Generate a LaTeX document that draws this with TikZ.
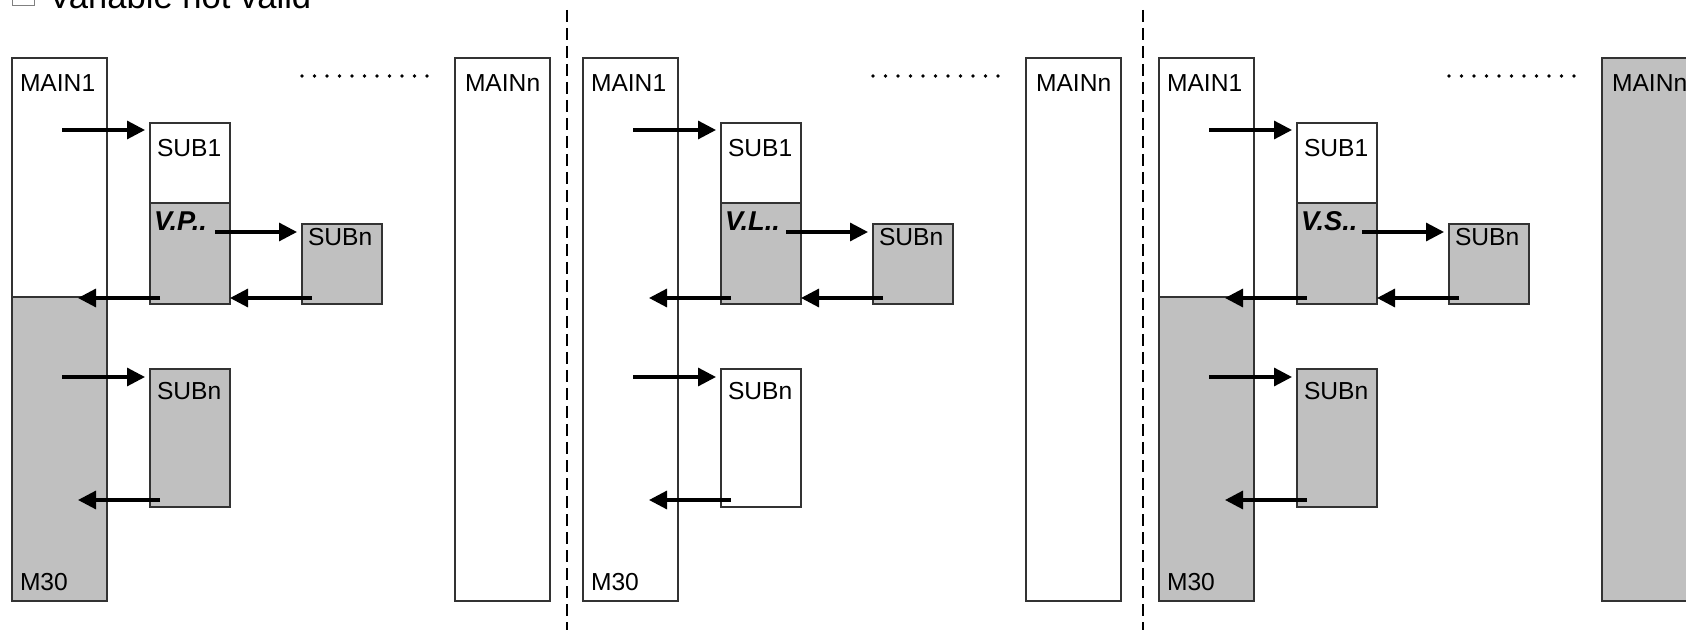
\documentclass[tikz,border=0pt]{standalone}
\usepackage{fontspec}
\setmainfont{Liberation Sans}
\usetikzlibrary{arrows.meta,calc}
\definecolor{boxgray}{HTML}{C0C0C0}
\definecolor{edgegray}{HTML}{333333}
\tikzset{
  box/.style={draw=edgegray, line width=0.6pt, anchor=north west, inner sep=0pt, outer sep=0pt, fill=white},
  graybox/.style={box, fill=boxgray},
  lbl/.style={anchor=base west, inner sep=0pt, outer sep=0pt, font=\fontsize{12.3pt}{14pt}\selectfont},
  vlbl/.style={lbl, font=\fontsize{13.6pt}{14pt}\selectfont\bfseries\itshape},
  arr/.style={line width=1.6pt, -{Triangle[length=9pt,width=9pt]}},
  sepline/.style={line width=1pt, dash pattern=on 6pt off 3pt},
}
% #1 shift, #2 name suffix, #3 V label, #4 main1 lower gray (1/0), #5 lower SUBn fill, #6 MAINn fill
\newcommand\drawpanel[6]{%
\begin{scope}[shift={(#1,0)}]
  \node[box, minimum width=47.5pt, minimum height=271.5pt] (mA#2) at (0,58) {};
  \ifnum#4=1
    \node[graybox, minimum width=47.5pt, minimum height=152pt] (mAlow#2) at (0,297) {};
  \fi
  \node[box, minimum width=40pt, minimum height=90.5pt] (sA#2) at (138,123) {};
  \node[graybox, minimum width=40pt, minimum height=50.5pt] (sAlow#2) at (138,203) {};
  \node[graybox, minimum width=40pt, minimum height=40pt] (sB#2) at (290,224) {};
  \node[box, fill=#5, minimum width=40pt, minimum height=69pt] (sC#2) at (138,369) {};
  \node[box, fill=#6, minimum width=47.5pt, minimum height=271.5pt] (mB#2) at (443,58) {};
  % labels
  \node[lbl] (tA#2) at (8,92) {MAIN1};
  \node[lbl] (tM#2) at (8,590) {M30};
  \node[lbl] (tS#2) at (145,157) {SUB1};
  \node[vlbl] (tV#2) at (142,231) {#3};
  \node[lbl] (tB#2) at (296,246) {SUBn};
  \node[lbl] (tC#2) at (145,400) {SUBn};
  \node[lbl] (tN#2) at (453,92) {MAINn};
  % dots
  \foreach \i in {0,...,10} \fill (290+\i*12.5,76) circle (1.9);
  % arrow end points
  \coordinate (a1s#2) at (50,130);  \coordinate (a1e#2) at (133,130);
  \coordinate (a2s#2) at (203,232); \coordinate (a2e#2) at (285,232);
  \coordinate (a3s#2) at (300,298); \coordinate (a3e#2) at (218,298);
  \coordinate (a4s#2) at (148,298); \coordinate (a4e#2) at (66,298);
  \coordinate (a5s#2) at (50,377);  \coordinate (a5e#2) at (133,377);
  \coordinate (a6s#2) at (148,500); \coordinate (a6e#2) at (66,500);
  \draw[arr] (a1s#2) -- (a1e#2);
  \draw[arr] (a2s#2) -- (a2e#2);
  \draw[arr] (a3s#2) -- (a3e#2);
  \draw[arr] (a4s#2) -- (a4e#2);
  \draw[arr] (a5s#2) -- (a5e#2);
  \draw[arr] (a6s#2) -- (a6e#2);
\end{scope}}
\begin{document}
\begin{tikzpicture}[x=0.5pt,y=-0.5pt]
  \useasboundingbox (0,0) rectangle (1686,630);
  \clip (0,0) rectangle (1686,630);
  \fill[white] (0,0) rectangle (1686,630);
  % title
  \node[draw=gray, line width=0.6pt, minimum size=11pt, anchor=south west, inner sep=0pt] (chk) at (12,6) {};
  \node[anchor=base west, inner sep=0pt, font=\fontsize{17.3pt}{20pt}\selectfont] (title) at (48,9) {Variable not valid};
  % panels
  \drawpanel{12}{p}{V.P..}{1}{boxgray}{white}
  \drawpanel{583}{q}{V.L..}{0}{white}{white}
  \drawpanel{1159}{r}{V.S..}{1}{boxgray}{boxgray}
  % separators
  \coordinate (d1t) at (567,10);  \coordinate (d1b) at (567,630);
  \coordinate (d2t) at (1143,10); \coordinate (d2b) at (1143,630);
  \draw[sepline] (d1t) -- (d1b);
  \draw[sepline] (d2t) -- (d2b);
\end{tikzpicture}
\end{document}
